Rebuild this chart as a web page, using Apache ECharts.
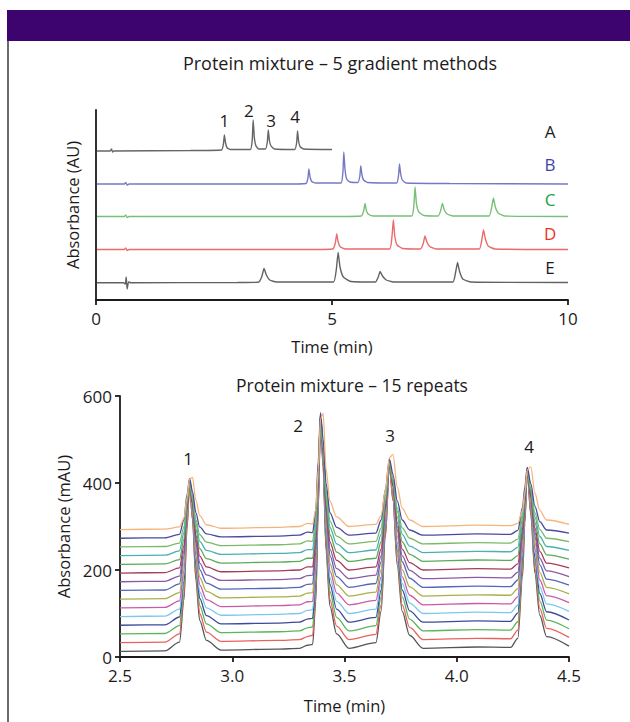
<!DOCTYPE html>
<html><head><meta charset="utf-8">
<script src="https://cdn.jsdelivr.net/npm/echarts@6/dist/echarts.min.js"></script>
<style>html,body{margin:0;padding:0;background:#fff;}#c{width:630px;height:722px;}</style>
</head><body><div id="c"></div>
<script>
// ---------- Top chart: 5 gradient methods (time in min, absorbance in arbitrary offset units) ----------
const gradTicks = [0, 5, 10];
const traceA = [[0.02,149],[0.30,149],[0.33,151],[0.35,148],[0.38,149],[2.0,149.5],[2.66,150],[2.70,156],[2.72,165],[2.745,157],[2.78,152],[2.85,150.5],
  [3.27,150.5],[3.31,160],[3.33,180],[3.355,162],[3.39,154],[3.45,151],
  [3.59,151],[3.63,158],[3.65,170],[3.675,159],[3.71,154],[3.78,151],
  [4.21,150.5],[4.25,157],[4.27,169],[4.295,158],[4.33,153],[4.40,151],[5.0,150.5]];
const traceB = [[0.02,116],[0.60,116],[0.63,117.5],[0.66,115],[0.70,116],[4.0,116],[4.45,116.5],[4.49,122],[4.51,131],[4.535,123],[4.57,118.5],[4.65,117],
  [5.19,117],[5.23,127],[5.25,148],[5.275,131],[5.31,121],[5.38,118],
  [5.55,117.5],[5.59,124],[5.61,134],[5.635,125],[5.67,120],[5.75,117.5],
  [6.37,117],[6.41,125],[6.43,136],[6.455,126],[6.49,120],[6.57,117],[7.5,116.5],[10,116]];
const traceC = [[0.02,83.5],[0.60,83.5],[0.63,85],[0.66,82.5],[0.70,83.5],[5.0,83.5],
  [5.62,84],[5.67,89],[5.70,96.5],[5.73,89],[5.78,85.5],[5.88,84],
  [6.69,84],[6.735,95],[6.76,113],[6.79,96],[6.84,88],[6.95,84.5],
  [7.25,84],[7.30,89],[7.34,96.5],[7.38,90],[7.44,86],[7.56,84],
  [8.33,84],[8.38,92],[8.42,102],[8.46,93],[8.52,87],[8.65,84],[10,83.5]];
const traceD = [[0.02,50.5],[0.60,50.5],[0.63,52],[0.66,49.5],[0.70,50.5],[4.5,50.5],
  [5.02,51],[5.07,57],[5.10,66],[5.13,58],[5.18,53],[5.28,51],
  [6.22,51],[6.27,63],[6.30,80],[6.33,64],[6.38,55],[6.50,51.5],
  [6.87,51],[6.93,56],[6.97,64],[7.01,58],[7.07,53.5],[7.20,51],
  [8.12,51],[8.17,59],[8.21,70],[8.25,61],[8.31,54],[8.45,51],[10,50.5]];
const traceE = [[0.02,17.3],[0.58,17.3],[0.62,16],[0.64,23],[0.66,11],[0.69,18],[0.74,17.3],[3.0,17.5],
  [3.44,17.8],[3.51,23],[3.56,31.5],[3.61,25],[3.68,20],[3.82,18],
  [5.03,18],[5.09,30],[5.13,47.5],[5.17,33],[5.24,23],[5.40,18.5],
  [5.92,18],[5.98,23],[6.02,28.5],[6.07,24],[6.15,20],[6.30,18],
  [7.56,18],[7.62,28],[7.66,37.5],[7.70,29],[7.77,21],[7.95,18],[10,17.5]];
const gradNames = ['A', 'B', 'C', 'D', 'E'];
const gradLabelT = [9.62, 9.62, 9.62, 9.62, 9.62];
const gradLabelV = [169, 136, 101, 67, 33];
const gradPeakNames = ['1', '2', '3', '4'];
const gradPeakT = [2.72, 3.24, 3.71, 4.22];
const gradPeakV = [180, 190, 180, 184];

// ---------- Bottom chart: 15 repeats (time in min, absorbance in mAU) ----------
const repeatTimes = [2.50,2.70,2.765,2.785,2.798,2.810,2.823,2.838,2.855,2.885,2.95,3.20,3.30,3.335,
  3.358,3.372,3.383,3.393,3.405,3.418,3.435,3.465,3.52,
  3.640,3.663,3.682,3.700,3.716,3.735,3.757,3.790,3.85,4.09,4.24,
  4.272,4.293,4.303,4.314,4.330,4.348,4.370,4.400,4.50];
const rep01 = [13,14,34,131,292,400,315,177,84,38,16,18,20,27,29,127,340,552,435,244,117,53,20,33,105,275,445,360,211,105,50,20,23,22,43,185,307,428,327,193,96,47,25];
const rep02 = [33,34,53,144,296,398,318,187,100,57,36,38,40,47,50,142,345,548,436,254,132,71,40,52,120,280,440,360,220,120,68,40,43,42,62,196,310,425,330,203,112,66,45];
const rep03 = [53,54,72,160,306,404,327,202,118,76,56,58,60,67,69,160,358,556,447,269,150,91,60,72,138,293,448,370,235,138,87,60,63,62,81,210,321,431,339,218,129,85,65];
const rep04 = [73,74,92,175,315,408,335,215,135,95,76,78,80,87,89,176,367,558,453,281,167,110,80,91,154,303,452,378,247,154,106,80,83,82,101,223,328,433,346,230,146,104,85];
const rep05 = [93,94,110,187,316,402,334,224,150,113,96,98,100,107,109,191,370,550,451,290,182,128,100,110,169,306,444,375,255,169,124,100,103,102,119,233,330,427,346,239,161,122,105];
const rep06 = [113,114,129,199,317,396,334,233,166,132,116,118,120,127,128,206,376,546,453,300,198,147,120,130,184,311,438,374,263,184,142,120,123,122,138,243,334,424,349,249,177,141,125];
const rep07 = [133,134,148,215,326,400,342,246,183,151,136,138,140,147,148,223,388,552,462,314,215,166,140,149,201,324,446,385,278,201,161,140,143,142,157,257,343,429,358,263,194,160,145];
const rep08 = [153,154,168,232,339,410,354,262,201,170,156,158,160,167,168,241,400,560,472,329,233,185,160,169,219,336,453,394,292,219,181,160,163,162,177,272,353,435,367,277,212,179,165];
const rep09 = [173,174,186,244,340,404,354,271,216,189,176,178,180,187,188,256,405,554,472,338,248,203,180,188,233,340,447,394,300,233,199,180,183,182,195,282,356,430,368,287,227,198,185];
const rep10 = [193,194,205,256,341,398,353,280,232,207,196,198,200,207,207,271,410,550,473,348,264,222,200,207,248,345,442,394,309,248,217,200,203,202,214,292,359,426,370,297,243,216,205];
const rep11 = [213,214,224,271,350,402,361,294,249,226,216,218,220,227,227,287,420,553,480,360,281,241,220,227,265,356,446,401,322,265,236,220,223,222,233,305,367,429,378,310,260,235,225];
const rep12 = [233,234,244,286,358,406,368,307,266,245,236,238,240,247,247,304,431,557,487,374,298,260,240,246,282,366,450,408,335,282,255,240,243,242,252,319,375,432,385,322,277,254,245];
const rep13 = [253,254,262,299,359,400,368,316,281,264,256,258,260,267,266,319,435,551,487,383,313,278,260,266,297,371,445,408,343,297,273,260,263,262,271,329,379,428,387,332,293,273,265];
const rep14 = [273,274,282,316,372,410,380,332,299,283,276,278,280,287,286,337,450,562,500,399,332,298,280,285,315,385,455,420,359,315,292,280,283,282,291,344,390,436,398,347,311,292,285];
const rep15 = [293,294,299,319,366,409,413,360,325,304,296,298,300,307,306,340,431,547,560,431,358,322,300,305,325,383,458,466,391,342,315,300,303,302,307,337,377,430,437,377,337,315,305];
const repeatTicks = [2.5, 3.0, 3.5, 4.0, 4.5];
const repeatYTicks = [0, 200, 400, 600];
const repPeakNames = ['1', '2', '3', '4'];
const repPeakT = [2.803, 3.293, 3.703, 4.322];
const repPeakV = [457, 533, 510, 485];

// ---------- styles ----------
const FONT = 'Open Sans';
const TXT = '#1e1a1b';
const gradColors = ['#666666', '#7579c2', '#78c078', '#ec6a6a', '#626262'];
const gradLabelColors = ['#1e1a1b', '#3c46a8', '#1fa049', '#ee3124', '#1e1a1b'];
const repColors = ['#555555','#e8625e','#5bb55b','#3d4a9a','#7cc8ea','#cc5aa8','#a8b04a','#5566bb',
  '#8a5aa8','#a83a5a','#5aaa5a','#4ab0b0','#7aba6a','#4a4aa0','#f5b57a'];

const gradTraces = [traceA, traceB, traceC, traceD, traceE];
const repTraces = [rep01,rep02,rep03,rep04,rep05,rep06,rep07,rep08,rep09,rep10,rep11,rep12,rep13,rep14,rep15];

const chart = echarts.init(document.getElementById('c'), null, {renderer: 'svg'});

const axisLine = {show: true, lineStyle: {color: '#1e1a1b', width: 1.8}};
const tickStyle = {show: true, length: 5, lineStyle: {color: '#1e1a1b', width: 1.8}};
const axisLabelStyle = {color: TXT, fontFamily: FONT, fontSize: 17};
const nameStyle = {color: TXT, fontFamily: FONT, fontSize: 16.5};
const annStyle = {fontFamily: FONT, fontSize: 17, opacity: 1, textBorderWidth: 0};
const hiddenDot = {color: 'rgba(0,0,0,0)', opacity: 1};

const series = [];
gradTraces.forEach((tr, i) => {
  series.push({type: 'line', xAxisIndex: 0, yAxisIndex: 0, data: tr, showSymbol: false, silent: true,
    smooth: 0.15, lineStyle: {color: gradColors[i], width: 1.4}, itemStyle: {color: gradColors[i]}, z: 2});
});
series.push({type: 'scatter', xAxisIndex: 0, yAxisIndex: 0, symbolSize: 1, silent: true,
  itemStyle: hiddenDot,
  data: gradNames.map((n, i) => ({name: n, value: [gradLabelT[i], gradLabelV[i]],
    label: {color: gradLabelColors[i]}})),
  label: Object.assign({show: true, position: 'inside', formatter: '{b}'}, annStyle), z: 5});
series.push({type: 'scatter', xAxisIndex: 0, yAxisIndex: 0, symbolSize: 1, silent: true,
  itemStyle: hiddenDot,
  data: gradPeakNames.map((n, i) => ({name: n, value: [gradPeakT[i], gradPeakV[i]]})),
  label: Object.assign({show: true, position: 'inside', formatter: '{b}', color: TXT}, annStyle), z: 5});

repTraces.forEach((vals, i) => {
  series.push({type: 'line', xAxisIndex: 1, yAxisIndex: 1, showSymbol: false, silent: true,
    smooth: 0.3, smoothMonotone: 'x',
    data: repeatTimes.map((t, j) => [t, vals[j]]),
    lineStyle: {color: repColors[i], width: 1.3}, itemStyle: {color: repColors[i]}, z: 2});
});
series.push({type: 'scatter', xAxisIndex: 1, yAxisIndex: 1, symbolSize: 1, silent: true,
  itemStyle: hiddenDot,
  data: repPeakNames.map((n, i) => ({name: n, value: [repPeakT[i], repPeakV[i]]})),
  label: Object.assign({show: true, position: 'inside', formatter: '{b}', color: TXT}, annStyle), z: 5});

chart.setOption({
  animation: false,
  backgroundColor: '#ffffff',
  title: [
    {text: 'Protein mixture \u2013 5 gradient methods', left: 335, top: 49, textAlign: 'center',
      textStyle: {color: TXT, fontFamily: FONT, fontSize: 18, fontWeight: 'normal'}},
    {text: 'Protein mixture \u2013 15 repeats', left: 347, top: 371, textAlign: 'center',
      textStyle: {color: TXT, fontFamily: FONT, fontSize: 17.5, fontWeight: 'normal'}}
  ],
  graphic: [
    {type: 'rect', shape: {x: 7, y: 10, width: 623, height: 31}, style: {fill: '#3d0470'}, silent: true},
    {type: 'line', shape: {x1: 8, y1: 41, x2: 8, y2: 722}, style: {stroke: '#3a3a3a', lineWidth: 1.5}, silent: true}
  ],
  grid: [
    {left: 96, top: 110, width: 472, height: 190},
    {left: 120, top: 396, width: 449, height: 261}
  ],
  xAxis: [
    {type: 'value', gridIndex: 0, min: gradTicks[0], max: gradTicks[gradTicks.length - 1], interval: 5,
      axisLine: axisLine, axisTick: tickStyle,
      axisLabel: Object.assign({margin: 10}, axisLabelStyle), splitLine: {show: false},
      name: 'Time (min)', nameLocation: 'middle', nameGap: 38, nameTextStyle: nameStyle},
    {type: 'value', gridIndex: 1, min: repeatTicks[0], max: repeatTicks[repeatTicks.length - 1], interval: 0.5,
      axisLine: axisLine, axisTick: tickStyle,
      axisLabel: Object.assign({margin: 10, formatter: v => v.toFixed(1)}, axisLabelStyle), splitLine: {show: false},
      name: 'Time (min)', nameLocation: 'middle', nameGap: 40, nameTextStyle: nameStyle}
  ],
  yAxis: [
    {type: 'value', gridIndex: 0, min: 0, max: 190, axisLine: axisLine, axisTick: {show: false},
      axisLabel: {show: false}, splitLine: {show: false},
      name: 'Absorbance (AU)', nameLocation: 'middle', nameGap: 15, nameTextStyle: nameStyle},
    {type: 'value', gridIndex: 1, min: repeatYTicks[0], max: repeatYTicks[repeatYTicks.length - 1], interval: 200,
      axisLine: axisLine, axisTick: tickStyle,
      axisLabel: Object.assign({margin: 8}, axisLabelStyle), splitLine: {show: false},
      name: 'Absorbance (mAU)', nameLocation: 'middle', nameGap: 39, nameTextStyle: nameStyle}
  ],
  series: series
});
</script></body></html>
